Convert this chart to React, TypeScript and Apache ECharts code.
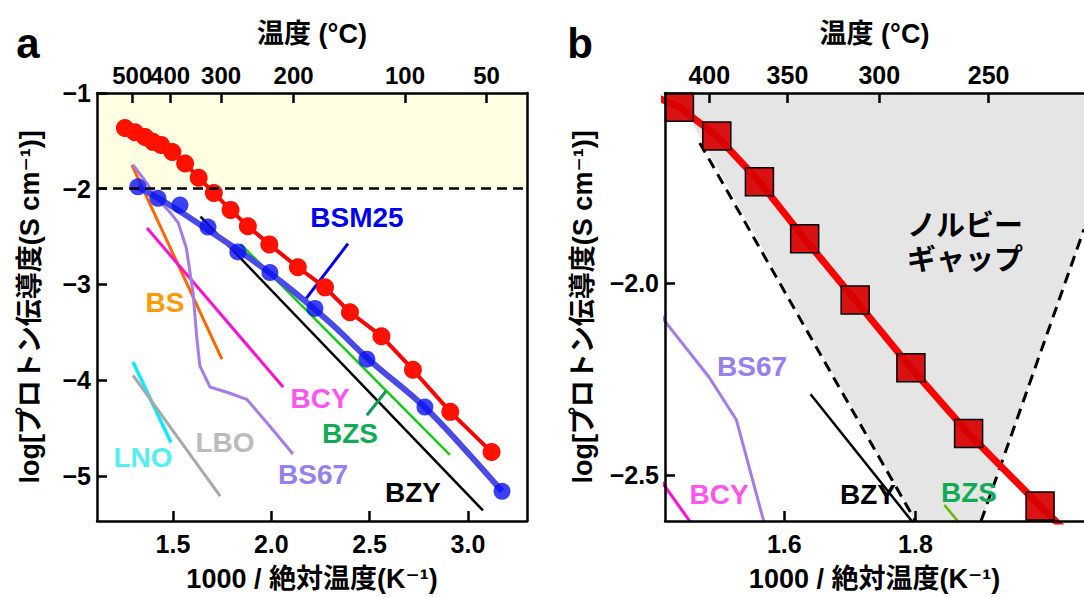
import React, { useEffect, useRef } from "react";
import * as echarts from "echarts";

const FONT = '"Liberation Sans", Arial, "Noto Sans CJK JP", "DejaVu Sans", sans-serif';

// ---- axis ticks ----
const tempsA = [500, 400, 300, 200, 100, 50];
const tempsB = [400, 350, 300, 250];
const ticksXA = [1.5, 2.0, 2.5, 3.0];
const ticksYA = [-1, -2, -3, -4, -5];
const ticksXB = [1.6, 1.8];
const ticksYB = [-2.0, -2.5];

// ---- BaSc0.8Mo0.2O2.8 ----
const bscX = [1.256, 1.307, 1.358, 1.398, 1.44, 1.497, 1.562, 1.631, 1.708, 1.793, 1.881, 1.99, 2.135, 2.273, 2.4, 2.56, 2.72, 2.91, 3.12];
const bscY = [-1.365, -1.41, -1.46, -1.51, -1.542, -1.617, -1.736, -1.885, -2.044, -2.221, -2.392, -2.581, -2.82, -3.03, -3.29, -3.54, -3.89, -4.33, -4.75];

// ---- BSM25 ----
const bsmX = [1.322, 1.424, 1.536, 1.678, 1.83, 1.993, 2.222, 2.486, 2.781, 3.173];
const bsmY = [-1.98, -2.1, -2.17, -2.4, -2.66, -2.875, -3.25, -3.78, -4.28, -5.16];
const bsmFitX = [1.322, 1.5, 1.7, 1.9, 2.1, 2.3, 2.5, 2.78, 3.0, 3.173];
const bsmFitY = [-1.98, -2.19, -2.46, -2.74, -3.05, -3.4, -3.79, -4.28, -4.76, -5.16];

// ---- literature lines ----
const bsX = [1.291, 1.749];
const bsY = [-1.75, -3.78];
const bs67X = [1.297, 1.36, 1.418, 1.485, 1.527, 1.568, 1.602, 1.622, 1.637, 1.688, 1.775, 1.876, 1.993, 2.11];
const bs67Y = [-1.75, -1.92, -2.1, -2.245, -2.357, -2.617, -3.08, -3.57, -3.85, -4.07, -4.125, -4.2, -4.48, -4.77];
const bcyX = [1.368, 2.06];
const bcyY = [-2.41, -4.07];
const lnoX = [1.297, 1.49];
const lnoY = [-3.81, -4.65];
const lboX = [1.297, 1.74];
const lboY = [-3.95, -5.21];
const bzyX = [1.64, 3.076];
const bzyY = [-2.29, -5.36];
const bzsX = [1.844, 2.908];
const bzsY = [-2.578, -4.78];

// ---- leader lines ----
const leadBsmX = [2.39, 2.166];
const leadBsmY = [-2.573, -3.177];
const leadBzsX = [2.583, 2.486];
const leadBzsY = [-4.115, -4.365];

// ---- Norby gap (panel b) ----
const gapLeftX = [1.471, 1.8];
const gapLeftY = [-1.635, -2.62];
const gapRightX = [1.9, 2.057];
const gapRightY = [-2.62, -1.86];
const grayX = [1.432, 1.8, 1.9, 2.06, 2.06];
const grayY = [-1.5, -2.62, -2.62, -1.845, -1.5];

// ---- formula text parts ----
const formulaParts = [
  { t: "BaSc", sub: false },
  { t: "0.8", sub: true },
  { t: "Mo", sub: false },
  { t: "0.2", sub: true },
  { t: "O", sub: false },
  { t: "2.8", sub: true },
];

const pairs = (xs: number[], ys: number[]) => xs.map((x, i) => [x, ys[i]]);
const inv = (t: number) => 1000 / (t + 273.15);
const toTemp = (v: number) => String(Math.round(1000 / v - 273.15));

function lineS(data: number[][], color: string, width: number, xi: number, yi: number, extra: any = {}) {
  return {
    type: "line",
    data,
    xAxisIndex: xi,
    yAxisIndex: yi,
    symbol: "none",
    showSymbol: false,
    lineStyle: { color, width, cap: "butt" },
    silent: true,
    clip: true,
    z: 2,
    ...extra,
  };
}

const tickStyle = { inside: true, length: 10, lineStyle: { color: "#000", width: 2.5 } };
const lineStyleAxis = { show: true, lineStyle: { color: "#000", width: 2.5 } };
const labelBase = {
  fontSize: 25, fontWeight: "bold", fontFamily: FONT, color: "#000",
  hideOverlap: false, showMinLabel: true, showMaxLabel: true,
};
const nameStyle = { fontSize: 27, fontWeight: "bold", fontFamily: FONT, color: "#000" };

function txt(x: number, y: number, text: string, color: string, size = 28, align = "center") {
  return {
    type: "text",
    x,
    y,
    silent: true,
    z: 50,
    style: {
      text,
      fill: color,
      fontSize: size,
      fontWeight: "bold",
      fontFamily: FONT,
      align,
      verticalAlign: "middle",
    },
  };
}

let measureCtx: CanvasRenderingContext2D | null = null;
function measure(text: string, size: number) {
  if (!measureCtx) measureCtx = document.createElement("canvas").getContext("2d");
  if (!measureCtx) return text.length * size * 0.6;
  measureCtx.font = `bold ${size}px ${FONT}`;
  return measureCtx.measureText(text).width;
}

function formula(x: number, y: number) {
  const MAIN = 28, SUB = 19;
  let cx = x;
  const children: any[] = [];
  formulaParts.forEach((p) => {
    const size = p.sub ? SUB : MAIN;
    children.push({
      type: "text",
      x: cx,
      y: p.sub ? y + 10 : y,
      silent: true,
      style: {
        text: p.t, fill: "#ff0000", fontSize: size, fontWeight: "bold", fontFamily: FONT,
        align: "left", verticalAlign: "middle",
      },
    });
    cx += measure(p.t, size);
  });
  return { type: "group", z: 50, silent: true, children };
}

export default function App() {
  const ref = useRef<HTMLDivElement>(null);
  useEffect(() => {
    if (!ref.current) return;
    const chart = echarts.init(ref.current, undefined, { renderer: "svg" });
    const xminA = 1.114, xmaxA = 3.3, yminA = -5.47, ymaxA = -1;
    const xminB = 1.418, xmaxB = 2.057, yminB = -2.62, ymaxB = -1.505;
    const topA1 = tempsA.filter((_, i) => i % 2 === 0).map(inv);
    const topA2 = tempsA.filter((_, i) => i % 2 === 1).map(inv);

    const option: any = {
      animation: false,
      backgroundColor: "#fff",
      grid: [
        { left: 97, top: 93, width: 430, height: 429, containLabel: false },
        { left: 665, top: 93, width: 460, height: 428, containLabel: false },
      ],
      xAxis: [
        {
          type: "value", gridIndex: 0, position: "bottom", min: xminA, max: xmaxA, z: 10,
          axisLine: lineStyleAxis, splitLine: { show: false },
          axisTick: { ...tickStyle, customValues: ticksXA },
          axisLabel: { ...labelBase, margin: 10, customValues: ticksXA, formatter: (v: number) => v.toFixed(1) },
          name: "1000 / 絶対温度(K⁻¹)", nameLocation: "middle", nameGap: 44, nameTextStyle: nameStyle,
        },
        {
          type: "value", gridIndex: 0, position: "top", min: xminA, max: xmaxA, z: 10,
          axisLine: lineStyleAxis, splitLine: { show: false },
          axisTick: { ...tickStyle, customValues: tempsA.map(inv) },
          axisLabel: { ...labelBase, fontSize: 24, margin: 6, customValues: topA1, formatter: toTemp },
          name: "温度 (°C)", nameLocation: "middle", nameGap: 46, nameTextStyle: nameStyle,
        },
        {
          type: "value", gridIndex: 1, position: "bottom", min: xminB, max: xmaxB, z: 10,
          axisLine: lineStyleAxis, splitLine: { show: false },
          axisTick: { ...tickStyle, customValues: ticksXB },
          axisLabel: { ...labelBase, margin: 10, customValues: ticksXB, formatter: (v: number) => v.toFixed(1) },
          name: "1000 / 絶対温度(K⁻¹)", nameLocation: "middle", nameGap: 44, nameTextStyle: nameStyle,
        },
        {
          type: "value", gridIndex: 1, position: "top", min: xminB, max: xmaxB, z: 10,
          axisLine: lineStyleAxis, splitLine: { show: false },
          axisTick: { ...tickStyle, customValues: tempsB.map(inv) },
          axisLabel: { ...labelBase, margin: 6, customValues: tempsB.map(inv), formatter: toTemp },
          name: "温度 (°C)", nameLocation: "middle", nameGap: 46, nameTextStyle: nameStyle,
        },
        {
          type: "value", gridIndex: 0, position: "top", min: xminA, max: xmaxA, z: 10,
          axisLine: { show: false }, splitLine: { show: false }, axisTick: { show: false },
          axisLabel: { ...labelBase, fontSize: 24, margin: 6, customValues: topA2, formatter: toTemp },
        },
      ],
      yAxis: [
        {
          type: "value", gridIndex: 0, position: "left", min: yminA, max: ymaxA, z: 10,
          axisLine: lineStyleAxis, splitLine: { show: false },
          axisTick: { ...tickStyle, customValues: ticksYA },
          axisLabel: { ...labelBase, margin: 6, customValues: ticksYA, formatter: (v: number) => "−" + Math.abs(v) },
          name: "log[プロトン伝導度(S cm⁻¹)]", nameLocation: "middle", nameGap: 54, nameTextStyle: nameStyle,
        },
        {
          type: "value", gridIndex: 0, position: "right", min: yminA, max: ymaxA, z: 10,
          axisLine: lineStyleAxis, splitLine: { show: false }, axisTick: { show: false }, axisLabel: { show: false },
        },
        {
          type: "value", gridIndex: 1, position: "left", min: yminB, max: ymaxB, z: 10,
          axisLine: lineStyleAxis, splitLine: { show: false },
          axisTick: { ...tickStyle, customValues: ticksYB },
          axisLabel: { ...labelBase, margin: 6, customValues: ticksYB, formatter: (v: number) => "−" + Math.abs(v).toFixed(1) },
          name: "log[プロトン伝導度(S cm⁻¹)]", nameLocation: "middle", nameGap: 69, nameTextStyle: nameStyle,
        },
      ],
      series: [
        // ----- panel a -----
        lineS(pairs(lnoX, lnoY), "#11e8ff", 3.5, 0, 0, {
          markArea: {
            silent: true,
            itemStyle: { color: "#ffffe4" },
            data: [[{ yAxis: -1 }, { yAxis: -2 }]],
          },
        }),
        lineS(pairs(lboX, lboY), "#a8a8a8", 3, 0, 0),
        lineS(pairs(bsX, bsY), "#ff6600", 3, 0, 0),
        lineS(pairs(bcyX, bcyY), "#ff10d0", 3, 0, 0),
        lineS(pairs(bs67X, bs67Y), "#a57be6", 3, 0, 0),
        lineS(pairs(bzyX, bzyY), "#000000", 2.5, 0, 0),
        lineS(pairs(bzsX, bzsY), "#11cc11", 2.5, 0, 0, {
          markLine: {
            silent: true,
            symbol: ["none", "none"],
            label: { show: false },
            lineStyle: { color: "#000", width: 2.5, type: [10, 6] },
            data: [{ yAxis: -2 }],
          },
        }),
        lineS(pairs(leadBsmX, leadBsmY), "#0000ee", 3, 0, 0),
        lineS(pairs(leadBzsX, leadBzsY), "#119955", 3, 0, 0),
        lineS(pairs(bsmFitX, bsmFitY), "#4a4ae6", 6, 0, 0, { smooth: 0.4 }),
        {
          type: "scatter", data: pairs(bsmX, bsmY), xAxisIndex: 0, yAxisIndex: 0, symbol: "circle", symbolSize: 17,
          itemStyle: { color: "#0a10f0" }, silent: true, z: 3,
        },
        lineS(pairs(bscX, bscY), "#ff0000", 4, 0, 0, {
          symbol: "circle", showSymbol: true, symbolSize: 18, itemStyle: { color: "#ff1000" }, z: 4,
        }),
        // ----- panel b -----
        {
          type: "custom", xAxisIndex: 2, yAxisIndex: 2, clip: true, silent: true, z: 1,
          data: pairs(grayX, grayY),
          renderItem: (params: any, api: any) => {
            if (params.dataIndex !== 0) return null;
            const pts = grayX.map((x, i) => api.coord([x, grayY[i]]));
            return { type: "polygon", shape: { points: pts }, style: { fill: "#e5e5e5" } };
          },
        },
        lineS(pairs(bs67X, bs67Y), "#a57be6", 3, 2, 2),
        lineS(pairs(bcyX, bcyY), "#ff10d0", 3, 2, 2),
        lineS(pairs(bzyX, bzyY), "#000000", 2.5, 2, 2),
        lineS(pairs(bzsX, bzsY), "#66b800", 2.5, 2, 2),
        lineS(pairs(gapLeftX, gapLeftY), "#000000", 2.5, 2, 2, { lineStyle: { color: "#000", width: 3, type: [11, 7] } }),
        lineS(pairs(gapRightX, gapRightY), "#000000", 2.5, 2, 2, { lineStyle: { color: "#000", width: 3, type: [11, 7] } }),
        lineS(pairs(bscX, bscY), "#ff0000", 7, 2, 2, {
          symbol: "rect", showSymbol: true, symbolSize: 28, z: 4,
          itemStyle: { color: "rgba(215,0,0,0.92)", borderColor: "#000", borderWidth: 1.5 },
        }),
      ],
      graphic: [
        txt(28, 43, "a", "#000", 42),
        txt(580, 43, "b", "#000", 42),
        formula(195, 130),
        txt(357, 217, "BSM25", "#0000ee"),
        txt(165, 302, "BS", "#ff9900"),
        txt(320, 398, "BCY", "#ff55ee"),
        txt(350, 433, "BZS", "#11aa55"),
        txt(143, 457, "LNO", "#55eeee"),
        txt(225, 442, "LBO", "#bbbbbb"),
        txt(313, 474, "BS67", "#9580ee"),
        txt(413, 492, "BZY", "#000"),
        formula(766, 131),
        txt(965, 226, "ノルビー", "#000", 29),
        txt(965, 260, "ギャップ", "#000", 29),
        txt(752, 366, "BS67", "#9580ee"),
        txt(719, 494, "BCY", "#ff55ee"),
        txt(868, 494, "BZY", "#000"),
        txt(969, 492, "BZS", "#11aa55"),
      ],
    };
    chart.setOption(option);
    return () => chart.dispose();
  }, []);
  return <div ref={ref} style={{ position: "absolute", left: 0, top: 0, width: 1084, height: 597 }} />;
}
